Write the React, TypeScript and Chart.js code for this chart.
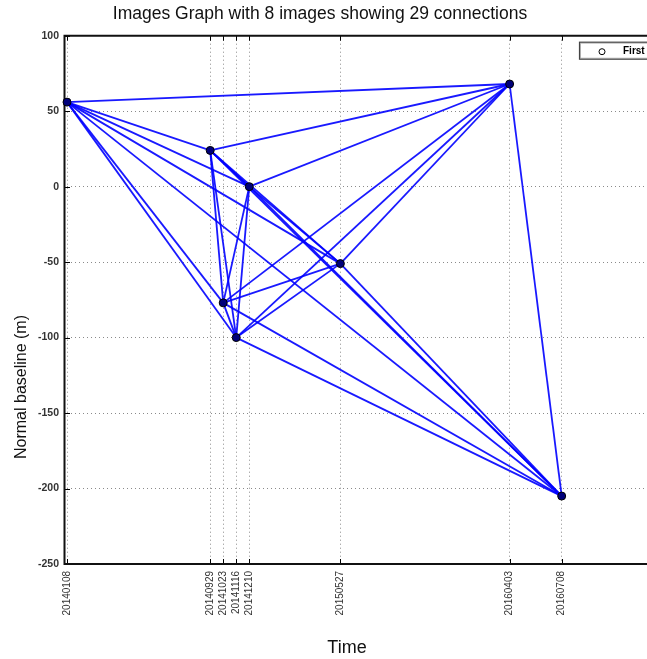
import React, { useEffect, useRef } from "react";
import { Chart, registerables } from "chart.js";

Chart.register(...registerables);

const titleText = "Images Graph with 8 images showing 29 connections";
const xAxisTitle = "Time";
const yAxisTitle = "Normal baseline (m)";
const legendLabel = "First image";

const acquisitionDates = [
  "20140108",
  "20140929",
  "20141023",
  "20141116",
  "20141210",
  "20150527",
  "20160403",
  "20160708",
];
const normalBaselines = [56, 24, -77, -100, 0, -51, 68, -205];

const connections: [number, number][] = [
  [0, 1], [0, 2], [0, 3], [0, 4], [0, 5], [0, 6], [0, 7],
  [1, 2], [1, 3], [1, 4], [1, 5], [1, 6], [1, 7],
  [2, 3], [2, 4], [2, 5], [2, 6], [2, 7],
  [3, 4], [3, 5], [3, 6], [3, 7],
  [4, 5], [4, 6], [4, 7],
  [5, 6], [5, 7],
  [6, 7],
  [1, 4],
];

const yTickValues = [100, 50, 0, -50, -100, -150, -200, -250];
const xAxisEndDate = "20170320";

const FONT = "'Liberation Sans', Arial, Helvetica, sans-serif";

function toUtcDays(s: string): number {
  const y = +s.slice(0, 4);
  const m = +s.slice(4, 6) - 1;
  const d = +s.slice(6, 8);
  return Date.UTC(y, m, d) / 86400000;
}
const originDay = toUtcDays(acquisitionDates[0]);
const dayOf = (s: string) => toUtcDays(s) - originDay;

const framePlugin = {
  id: "frame",
  beforeDatasetsDraw(chart: any) {
    const { ctx, chartArea: a, scales } = chart;
    const x = scales.x;
    const y = scales.y;
    ctx.save();
    ctx.strokeStyle = "#000";
    ctx.lineWidth = 1;
    ctx.beginPath();
    x.ticks.forEach((t: any) => {
      const px = Math.round(x.getPixelForValue(t.value)) + 0.5;
      ctx.moveTo(px, a.bottom);
      ctx.lineTo(px, a.bottom - 5);
      ctx.moveTo(px, a.top);
      ctx.lineTo(px, a.top + 5);
    });
    y.ticks.forEach((t: any) => {
      const py = Math.round(y.getPixelForValue(t.value)) + 0.5;
      ctx.moveTo(a.left - 2, py);
      ctx.lineTo(a.left + 3, py);
    });
    ctx.stroke();
    ctx.lineWidth = 2;
    ctx.strokeStyle = "#111";
    ctx.beginPath();
    ctx.moveTo(a.left - 2.5, a.top - 1);
    ctx.lineTo(a.left - 2.5, a.bottom + 1);
    ctx.moveTo(a.left - 3.5, a.bottom);
    ctx.lineTo(a.right, a.bottom);
    ctx.moveTo(a.left - 3.5, a.top);
    ctx.lineTo(a.right, a.top);
    ctx.stroke();
    ctx.restore();
  },
  afterDraw(chart: any) {
    const { ctx, chartArea: a } = chart;
    ctx.save();
    // titles
    ctx.fillStyle = "#111";
    ctx.textAlign = "center";
    ctx.textBaseline = "middle";
    ctx.font = `17.5px ${FONT}`;
    ctx.fillText(titleText, 320, 14);
    ctx.font = `18px ${FONT}`;
    ctx.fillText(xAxisTitle, 347, 648);
    ctx.save();
    ctx.translate(22, 387);
    ctx.rotate(-Math.PI / 2);
    ctx.font = `16px ${FONT}`;
    ctx.fillText(yAxisTitle, 0, 0);
    ctx.restore();
    // legend box
    const lx = a.right - 121;
    const ly = a.top + 6;
    const lw = 116;
    const lh = 18;
    ctx.fillStyle = "#fff";
    ctx.fillRect(lx, ly, lw, lh);
    ctx.strokeStyle = "#bbb";
    ctx.lineWidth = 1;
    ctx.strokeRect(lx + 1.5, ly + 1.5, lw - 3, lh - 3);
    ctx.strokeStyle = "#444";
    ctx.lineWidth = 1.2;
    ctx.strokeRect(lx + 0.5, ly + 0.5, lw - 1, lh - 1);
    ctx.beginPath();
    ctx.lineWidth = 1;
    ctx.strokeStyle = "#000";
    ctx.arc(lx + 23, ly + 10, 3, 0, Math.PI * 2);
    ctx.stroke();
    ctx.fillStyle = "#000";
    ctx.font = `bold 10px ${FONT}`;
    ctx.textBaseline = "middle";
    ctx.textAlign = "left";
    ctx.fillText(legendLabel, lx + 44, ly + 10);
    ctx.restore();
  },
};

export default function App() {
  const ref = useRef<HTMLCanvasElement | null>(null);

  useEffect(() => {
    if (!ref.current) return;
    const xs = acquisitionDates.map(dayOf);
    const nodes = xs.map((xv, i) => ({ x: xv, y: normalBaselines[i] }));
    const edgeSets = connections.map(([i, j]) => ({
      type: "line" as const,
      data: [nodes[i], nodes[j]],
      borderColor: "rgba(0,0,255,0.9)",
      borderWidth: 1.8,
      pointRadius: 0,
      fill: false,
      clip: false as any,
      order: 1,
    }));
    const chart = new Chart(ref.current, {
      type: "scatter",
      data: {
        datasets: [
          {
            type: "scatter",
            label: legendLabel,
            data: nodes,
            pointRadius: 4,
            pointBackgroundColor: "#00007a",
            pointBorderColor: "#000",
            pointBorderWidth: 1,
            clip: false,
            order: 0,
          } as any,
          ...edgeSets,
        ],
      },
      options: {
        animation: false,
        responsive: false,
        devicePixelRatio: 1,
        layout: { padding: { left: 0, right: 20, top: 35.7, bottom: 0 } },
        plugins: {
          legend: { display: false },
          tooltip: { enabled: false },
          title: { display: false },
        },
        scales: {
          x: {
            type: "linear",
            min: 0,
            max: dayOf(xAxisEndDate),
            afterBuildTicks: (scale: any) => {
              scale.ticks = xs.map((v) => ({ value: v }));
            },
            afterFit: (scale: any) => {
              scale.height = 95;
            },
            ticks: {
              autoSkip: false,
              minRotation: 90,
              maxRotation: 90,
              padding: 7,
              color: "#333",
              font: { family: FONT, size: 10 },
              callback: (v: any) => {
                const idx = xs.indexOf(Number(v));
                return idx >= 0 ? acquisitionDates[idx] : "";
              },
            },
            grid: {
              drawTicks: false,
              color: "#8a8a8a",
              lineWidth: 1,
            },
            border: { display: false, dash: [1, 3] },
          },
          y: {
            type: "linear",
            min: -250,
            max: 100,
            afterBuildTicks: (scale: any) => {
              scale.ticks = yTickValues.map((v) => ({ value: v }));
            },
            afterFit: (scale: any) => {
              scale.width = 67;
            },
            ticks: {
              padding: 8,
              color: "#333",
              font: { family: FONT, size: 10.5, weight: "bold" },
            },
            grid: {
              drawTicks: false,
              color: "#8a8a8a",
              lineWidth: 1,
            },
            border: { display: false, dash: [1, 3] },
          },
        },
      },
      plugins: [framePlugin],
    });
    return () => chart.destroy();
  }, []);

  return (
    <div
      style={{
        position: "fixed",
        left: 0,
        top: 0,
        width: 647,
        height: 659,
        overflow: "hidden",
        background: "#fff",
      }}
    >
      <canvas ref={ref} width={720} height={659} style={{ display: "block" }} />
    </div>
  );
}
